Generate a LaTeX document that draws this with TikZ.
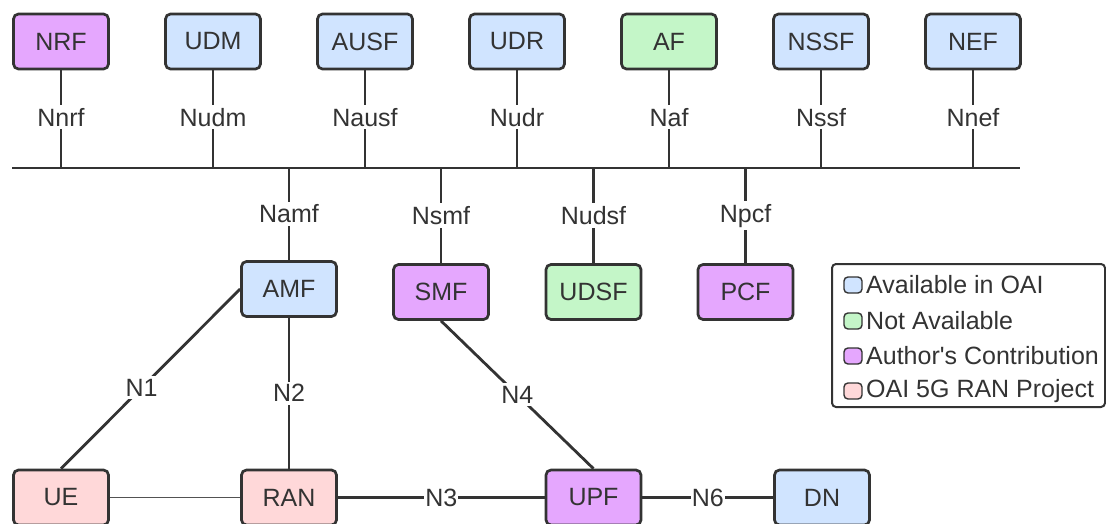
\documentclass[tikz,border=0pt]{standalone}
\usepackage{fontspec}
\setmainfont{Liberation Sans}
\definecolor{ink}{HTML}{333333}
\definecolor{availc}{HTML}{D0E4FF}
\definecolor{notavc}{HTML}{C4F6C8}
\definecolor{authc}{HTML}{E5A7FE}
\definecolor{ranc}{HTML}{FFD8D9}
\begin{document}
\begin{tikzpicture}[x=1pt,y=-1pt,
  font=\fontsize{25}{30}\selectfont,
  nf/.style={draw=ink, line width=2.7pt, rounded corners=5pt,
             minimum width=95pt, minimum height=55pt, inner sep=0pt, text=ink},
  avail/.style={nf, fill=availc},
  notav/.style={nf, fill=notavc},
  auth/.style={nf, fill=authc},
  ranp/.style={nf, fill=ranc},
  link/.style={draw=ink, line width=2.8pt},
  thinlink/.style={draw=ink!85, line width=1.4pt},
  lbl/.style={fill=white, inner sep=3pt, text=ink},
  swatch/.style={draw=ink, line width=1.4pt, rounded corners=4pt,
                 minimum width=18pt, minimum height=16pt, inner sep=0pt},
  legtext/.style={anchor=west, inner sep=0pt, text=ink},
]
\useasboundingbox (0,0) rectangle (1106,524);

% service bus
\coordinate (busL) at (12,168);
\coordinate (busR) at (1020,168);
\draw[link, line width=2pt] (busL) -- (busR);

% network functions above the bus
\node[auth]  (nrf)  at (61,41.5)  {NRF};
\node[avail] (udm)  at (213,41.5) {UDM};
\node[avail] (ausf) at (365,41.5) {AUSF};
\node[avail] (udr)  at (517,41.5) {UDR};
\node[notav] (af)   at (669,41.5) {AF};
\node[avail] (nssf) at (821,41.5) {NSSF};
\node[avail] (nef)  at (973,41.5) {NEF};

\foreach \n/\t in {nrf/Nnrf, udm/Nudm, ausf/Nausf, udr/Nudr, af/Naf, nssf/Nssf, nef/Nnef}{
  \draw[link] (\n.south) -- node[lbl, pos=0.48] {\t} (\n.south |- busL);
}

% network functions below the bus
\node[avail] (amf)  at (289,289)   {AMF};
\node[auth]  (smf)  at (441,292)   {SMF};
\node[notav] (udsf) at (593.5,292) {UDSF};
\node[auth]  (pcf)  at (745.5,292) {PCF};

\foreach \n/\t in {amf/Namf, smf/Nsmf, udsf/Nudsf, pcf/Npcf}{
  \draw[link] (\n.north |- busL) -- node[lbl] {\t} (\n.north);
}

% access and user plane
\node[ranp]  (ue)  at (61,497.5)    {UE};
\node[ranp]  (ran) at (289,497.5)   {RAN};
\node[auth]  (upf) at (593.5,497.5) {UPF};
\node[avail] (dn)  at (822,497.5)   {DN};

\draw[link] (ue.north) -- node[lbl, pos=0.45] {N1} (amf.west);
\draw[link] (amf.south) -- node[lbl] {N2} (ran.north);
\draw[link] (smf.south) -- node[lbl] {N4} (upf.north);
\draw[thinlink] (ue.east) -- (ran.west);
\draw[link] (ran.east) -- node[fill=white, inner sep=1pt, text=ink] {N3} (upf.west);
\draw[link] (upf.east) -- node[fill=white, inner sep=1pt, text=ink] {N6} (dn.west);

% legend
\draw[draw=ink, line width=2pt, rounded corners=4pt] (832,264) rectangle (1105,407);
\node[swatch, fill=availc] (s1) at (853,285) {};
\node[swatch, fill=notavc] (s2) at (853,321) {};
\node[swatch, fill=authc]  (s3) at (853,356) {};
\node[swatch, fill=ranc]   (s4) at (853,391) {};
\node[legtext] (t1) at (866,285) {Available in OAI};
\node[legtext] (t2) at (866,321) {Not Available};
\node[legtext] (t3) at (866,356) {Author\textquotesingle s Contribution};
\node[legtext] (t4) at (866,391) {OAI 5G RAN Project};
\end{tikzpicture}
\end{document}
